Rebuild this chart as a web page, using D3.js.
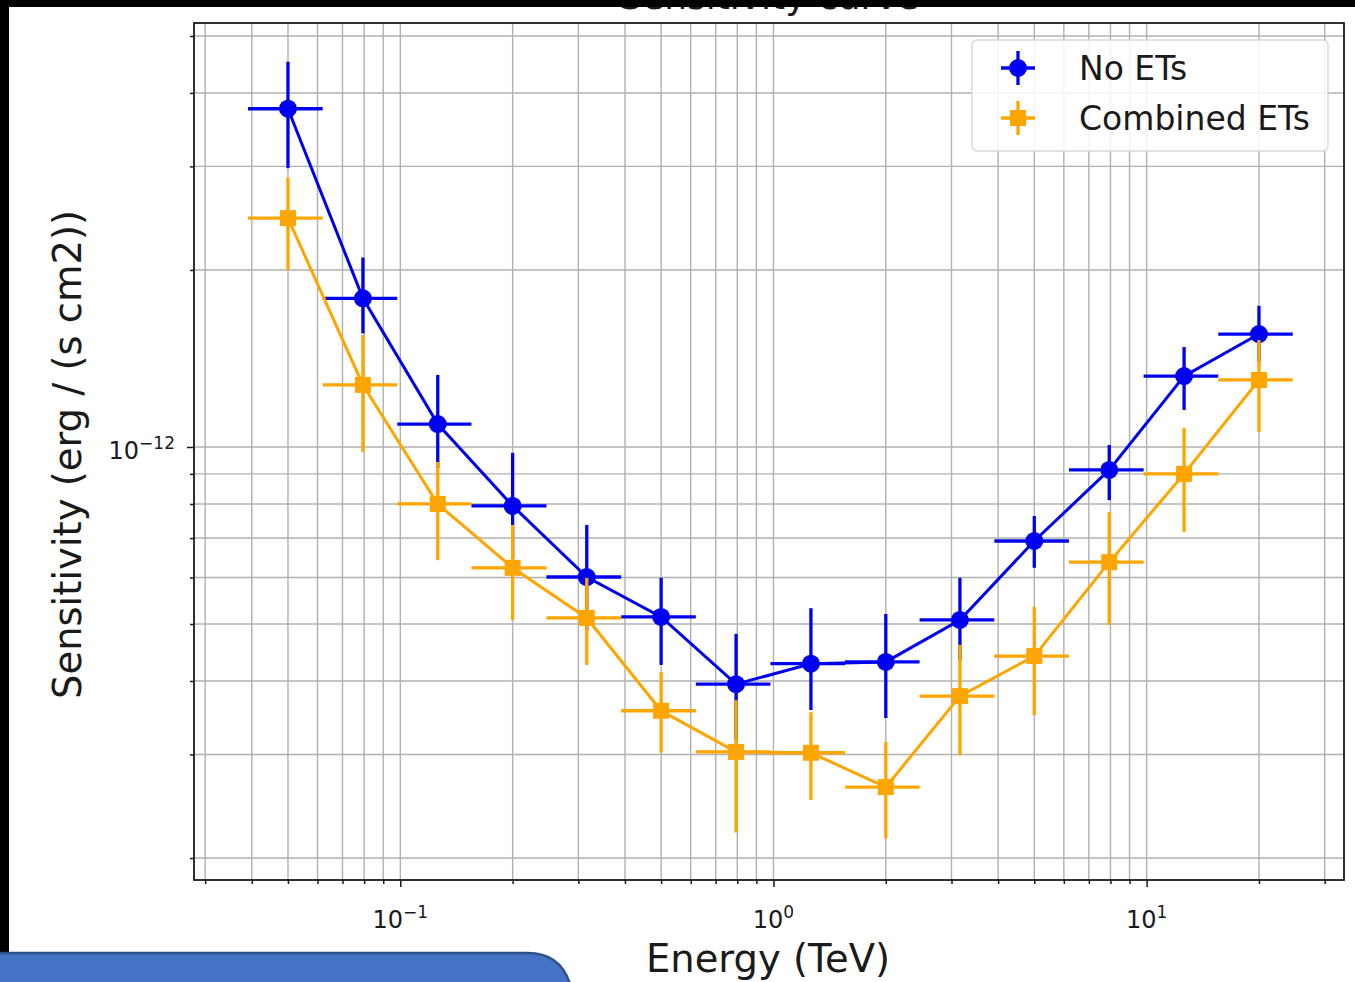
<!DOCTYPE html>
<html>
<head>
<meta charset="utf-8">
<script src="https://cdn.jsdelivr.net/npm/d3@7"></script>
<style>
  body { margin: 0; background: #fff; }
  svg text { font-family: "DejaVu Sans", sans-serif; fill: #1a1a1a; }
</style>
</head>
<body>
<div id="chart-area"></div>
<script>
// DATA
const energy = [0.05, 0.0794, 0.126, 0.2, 0.316, 0.5, 0.794, 1.26, 2.0, 3.16, 5.0, 7.94, 12.6, 20.0];
const energyLow = [0.0398, 0.0631, 0.1, 0.158, 0.251, 0.398, 0.631, 1.0, 1.585, 2.51, 3.98, 6.31, 10.0, 15.85];
const energyHigh = [0.0631, 0.1, 0.158, 0.251, 0.398, 0.631, 1.0, 1.585, 2.51, 3.98, 6.31, 10.0, 15.85, 25.1];

const noEts = [3.76e-12, 1.79e-12, 1.094e-12, 7.94e-13, 6.01e-13, 5.14e-13, 3.95e-13, 4.28e-13, 4.31e-13, 5.08e-13, 6.92e-13, 9.14e-13, 1.32e-12, 1.556e-12];
const noEtsLow = [2.98e-12, 1.56e-12, 9.21e-13, 6.47e-13, 4.88e-13, 4.26e-13, 3.18e-13, 3.57e-13, 3.46e-13, 4.34e-13, 6.23e-13, 8.12e-13, 1.156e-12, 1.395e-12];
const noEtsHigh = [4.52e-12, 2.10e-12, 1.326e-12, 9.77e-13, 7.37e-13, 5.99e-13, 4.81e-13, 5.32e-13, 5.2e-13, 5.99e-13, 7.63e-13, 1.008e-12, 1.479e-12, 1.738e-12];

const combined = [2.45e-12, 1.275e-12, 8.0e-13, 6.23e-13, 5.12e-13, 3.56e-13, 3.03e-13, 3.02e-13, 2.64e-13, 3.77e-13, 4.41e-13, 6.37e-13, 9.0e-13, 1.30e-12];
const combinedLow = [2.0e-12, 9.81e-13, 6.42e-13, 5.08e-13, 4.26e-13, 3.02e-13, 2.21e-13, 2.51e-13, 2.16e-13, 2.99e-13, 3.50e-13, 4.98e-13, 7.17e-13, 1.06e-12];
const combinedHigh = [2.87e-12, 1.55e-12, 9.43e-13, 7.37e-13, 5.99e-13, 4.14e-13, 3.71e-13, 3.54e-13, 3.15e-13, 4.61e-13, 5.35e-13, 7.75e-13, 1.077e-12, 1.52e-12];

const seriesNames = ["No ETs", "Combined ETs"];
const xTickValues = [0.1, 1, 10];
const xTickExps = ["\u22121", "0", "1"];
const yTickValues = [1e-12];
const yTickExps = ["\u221212"];

// LAYOUT
const W = 1355, H = 982;
const margin = { left: 194, right: 11, top: 23, bottom: 102 };
const width = W - margin.left - margin.right,
    height = H - margin.top - margin.bottom;

const svg = d3.select("#chart-area")
    .append("svg")
    .attr("width", W)
    .attr("height", H);

svg.append("rect").attr("width", W).attr("height", H).attr("fill", "#fff");

const g = svg.append("g")
    .attr("transform", "translate(" + margin.left + ", " + margin.top + ")");

const x = d3.scaleLog()
    .domain([0.0280, 33.8])
    .range([0, width]);

const y = d3.scaleLog()
    .domain([1.835e-13, 5.26e-12])
    .range([height, 0]);

// minor tick values
const xMinor = [];
[0.01, 0.1, 1, 10].forEach(function (p) {
    for (let k = 2; k <= 9; k++) {
        const v = p * k;
        if (v > x.domain()[0] && v < x.domain()[1]) xMinor.push(v);
    }
});
const yMinor = [];
[1e-13, 1e-12].forEach(function (p) {
    for (let k = 2; k <= 9; k++) {
        const v = p * k;
        if (v > y.domain()[0] && v < y.domain()[1]) yMinor.push(v);
    }
});

// GRID
const grid = g.append("g").attr("stroke", "#b0b0b0").attr("stroke-width", 1.4);
grid.selectAll(".vx")
    .data(xMinor.concat(xTickValues))
    .enter().append("line")
    .attr("x1", function (d) { return x(d); })
    .attr("x2", function (d) { return x(d); })
    .attr("y1", 0).attr("y2", height);
grid.selectAll(".hy")
    .data(yMinor.concat(yTickValues))
    .enter().append("line")
    .attr("y1", function (d) { return y(d); })
    .attr("y2", function (d) { return y(d); })
    .attr("x1", 0).attr("x2", width);

// AXES
const xAxisMinor = g.append("g")
    .attr("transform", "translate(0, " + height + ")")
    .call(d3.axisBottom(x).tickValues(xMinor).tickSize(4).tickFormat(""));
const xAxisMajor = g.append("g")
    .attr("transform", "translate(0, " + height + ")")
    .call(d3.axisBottom(x).tickValues(xTickValues).tickSize(7).tickFormat(""));
const yAxisMinor = g.append("g")
    .call(d3.axisLeft(y).tickValues(yMinor).tickSize(4).tickFormat(""));
const yAxisMajor = g.append("g")
    .call(d3.axisLeft(y).tickValues(yTickValues).tickSize(7).tickFormat(""));

[xAxisMinor, xAxisMajor, yAxisMinor, yAxisMajor].forEach(function (a) {
    a.select(".domain").remove();
    a.selectAll("line").attr("stroke", "#1a1a1a").attr("stroke-width", 1.5);
});

// tick labels with superscripts
xTickValues.forEach(function (v, i) {
    const t = g.append("text")
        .attr("x", x(v))
        .attr("y", height + 48)
        .attr("text-anchor", "middle")
        .attr("font-size", "24px");
    t.append("tspan").text("10");
    t.append("tspan").attr("dy", -10).attr("font-size", "17px").text(xTickExps[i]);
});
yTickValues.forEach(function (v, i) {
    const t = g.append("text")
        .attr("x", -19)
        .attr("y", y(v) + 12)
        .attr("text-anchor", "end")
        .attr("font-size", "24px");
    t.append("tspan").text("10");
    t.append("tspan").attr("dy", -10).attr("font-size", "17px").text(yTickExps[i]);
});

// frame
g.append("rect")
    .attr("width", width).attr("height", height)
    .attr("fill", "none").attr("stroke", "#1a1a1a").attr("stroke-width", 1.8);

// LABELS
g.append("text")
    .attr("x", width / 2 - 1)
    .attr("y", height + 92)
    .attr("font-size", "38.5px")
    .attr("text-anchor", "middle")
    .text("Energy (TeV)");

g.append("text")
    .attr("x", -(height / 2) - 3)
    .attr("y", -113)
    .attr("font-size", "38.5px")
    .attr("text-anchor", "middle")
    .attr("transform", "rotate(-90)")
    .text("Sensitivity (erg / (s cm2))");

// title: mostly hidden under the black strip in the screenshot
svg.append("text")
    .attr("x", margin.left + width / 2)
    .attr("y", 9)
    .attr("font-size", "36px")
    .attr("text-anchor", "middle")
    .text("Sensitivity curve");

// SERIES
const series = [
    { name: seriesNames[0], vals: noEts, lo: noEtsLow, hi: noEtsHigh, color: "#0000f0", marker: "circle" },
    { name: seriesNames[1], vals: combined, lo: combinedLow, hi: combinedHigh, color: "#ffa500", marker: "square" }
];

const line = d3.line()
    .x(function (d) { return x(d.e); })
    .y(function (d) { return y(d.v); });

series.forEach(function (s) {
    const data = energy.map(function (e, i) {
        return { e: e, v: s.vals[i], lo: s.lo[i], hi: s.hi[i], el: energyLow[i], eh: energyHigh[i] };
    });
    const sg = g.append("g");
    sg.append("path")
        .datum(data)
        .attr("d", line)
        .attr("fill", "none")
        .attr("stroke", s.color)
        .attr("stroke-width", 3);
    sg.selectAll(".ey").data(data).enter().append("line")
        .attr("x1", function (d) { return x(d.e); })
        .attr("x2", function (d) { return x(d.e); })
        .attr("y1", function (d) { return y(d.lo); })
        .attr("y2", function (d) { return y(d.hi); })
        .attr("stroke", s.color).attr("stroke-width", 3.3);
    sg.selectAll(".ex").data(data).enter().append("line")
        .attr("x1", function (d) { return x(d.el) - 3; })
        .attr("x2", function (d) { return x(d.eh) - 3; })
        .attr("y1", function (d) { return y(d.v); })
        .attr("y2", function (d) { return y(d.v); })
        .attr("stroke", s.color).attr("stroke-width", 3.3);
    if (s.marker === "circle") {
        sg.selectAll(".m").data(data).enter().append("circle")
            .attr("cx", function (d) { return x(d.e); })
            .attr("cy", function (d) { return y(d.v); })
            .attr("r", 9)
            .attr("fill", s.color);
    } else {
        sg.selectAll(".m").data(data).enter().append("rect")
            .attr("x", function (d) { return x(d.e) - 8; })
            .attr("y", function (d) { return y(d.v) - 8; })
            .attr("width", 16).attr("height", 16)
            .attr("fill", s.color);
    }
});

// LEGEND
const lg = svg.append("g").attr("transform", "translate(972, 40)");
lg.append("rect")
    .attr("width", 356).attr("height", 111)
    .attr("rx", 5)
    .attr("fill", "#fff").attr("fill-opacity", 0.85)
    .attr("stroke", "#d6d6d6").attr("stroke-width", 1.3);
series.forEach(function (s, i) {
    const cy = 28 + i * 50, cx = 46;
    const it = lg.append("g");
    it.append("line").attr("x1", cx).attr("x2", cx).attr("y1", cy - 17).attr("y2", cy + 17)
        .attr("stroke", s.color).attr("stroke-width", 3.3);
    it.append("line").attr("x1", cx - 17).attr("x2", cx + 17).attr("y1", cy).attr("y2", cy)
        .attr("stroke", s.color).attr("stroke-width", 3.3);
    if (s.marker === "circle") {
        it.append("circle").attr("cx", cx).attr("cy", cy).attr("r", 9).attr("fill", s.color);
    } else {
        it.append("rect").attr("x", cx - 8).attr("y", cy - 8).attr("width", 16).attr("height", 16).attr("fill", s.color);
    }
    it.append("text")
        .attr("x", 107).attr("y", cy + 12)
        .attr("font-size", "33px")
        .text(s.name);
});

// SCREENSHOT EDGES (black bars + slide shape)
svg.append("rect").attr("x", 0).attr("y", 0).attr("width", W).attr("height", 7).attr("fill", "#000");
svg.append("rect").attr("x", 0).attr("y", 0).attr("width", 9).attr("height", 955).attr("fill", "#000");
svg.append("path")
    .attr("d", "M-2,984 L-2,953 L528,953 Q560,953 570,984 Z")
    .attr("fill", "#4472c4")
    .attr("stroke", "#2f528f")
    .attr("stroke-width", 2.5);
</script>
</body>
</html>
